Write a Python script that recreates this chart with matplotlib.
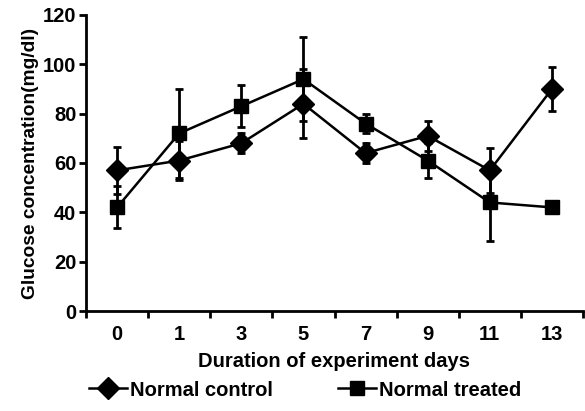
import numpy as np
import matplotlib.pyplot as plt

# data
days = ['0', '1', '3', '5', '7', '9', '11', '13']
control = [57, 61, 68, 84, 64, 71, 57, 90]
control_err = [9.5, 8, 4, 14, 4, 6, 9, 9]
treated = [42, 72, 83, 94, 76, 61, 44, 42]
treated_err = [8.5, 18, 8.5, 17, 4, 7, 15.5, 0]

plt.rcParams['font.family'] = ['Liberation Sans', 'DejaVu Sans']
plt.rcParams['font.weight'] = 'bold'
plt.rcParams['axes.labelweight'] = 'bold'

fig = plt.figure(figsize=(5.85, 4.11), dpi=100)
ax = fig.add_axes([86/585, 100/411, 497/585, 296/411])

x = np.arange(len(days))
ax.errorbar(x, control, yerr=control_err, fmt='none', ecolor='black',
            elinewidth=2, capsize=3, capthick=2)
ax.errorbar(x, treated, yerr=treated_err, fmt='none', ecolor='black',
            elinewidth=2, capsize=3, capthick=2)
ax.plot(x, control, color='black', lw=1.8, marker='D', ms=11, label='Normal control')
ax.plot(x, treated, color='black', lw=1.8, marker='s', ms=9.5, label='Normal treated')

ax.set_xlim(-0.5, len(days) - 0.5)
ax.set_ylim(0, 120)
ax.set_yticks(np.arange(0, 121, 20))
ax.set_xticks(x)
ax.set_xticklabels(days)
ax.set_xticks(np.arange(-0.5, len(days)), minor=True)
ax.tick_params(axis='x', which='major', length=0, pad=10, labelsize=14.5)
ax.tick_params(axis='x', which='minor', length=5, width=2)
ax.tick_params(axis='y', length=5, width=2, pad=2, labelsize=14.5)

for s in ['top', 'right']:
    ax.spines[s].set_visible(False)
for s in ['left', 'bottom']:
    ax.spines[s].set_linewidth(2)

ax.set_xlabel('Duration of experiment days', fontsize=14.5, labelpad=6)
ax.set_ylabel('Glucose concentration(mg/dl)', fontsize=13.8, labelpad=3)

fig.legend(loc='center left', bbox_to_anchor=(89/585, 1 - 390/411), ncol=2, frameon=False,
           fontsize=14.5, handlelength=1.9, handletextpad=0.15, columnspacing=3.2,
           borderpad=0, borderaxespad=0)

fig.savefig('out.png', dpi=100)
